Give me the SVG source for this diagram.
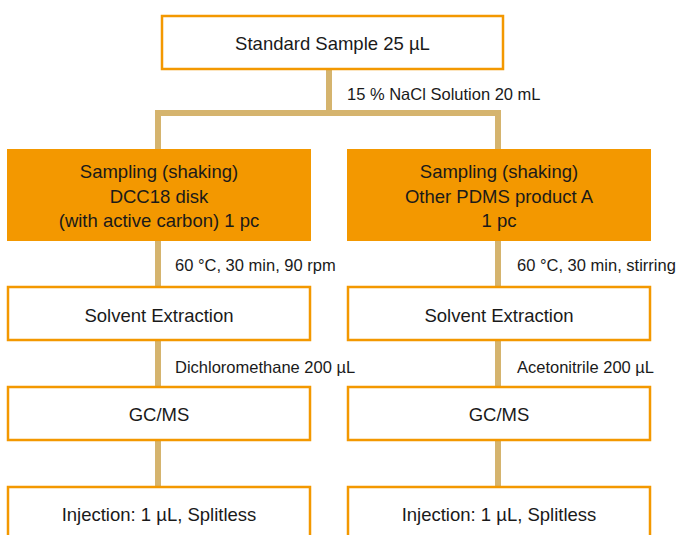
<svg xmlns="http://www.w3.org/2000/svg" width="680" height="535" viewBox="0 0 680 535">
<style>
.box{fill:#fff;stroke:#F39800;stroke-width:2.5}
.fbox{fill:#F39800;stroke:#F39800;stroke-width:2}
.t{font-family:"Liberation Sans",Arial,sans-serif;font-size:18.5px;fill:#1a1a1a;text-anchor:middle}
.l{font-family:"Liberation Sans",Arial,sans-serif;font-size:16.5px;fill:#1a1a1a}
.c{stroke:#D5B46E;stroke-width:6;fill:none}
</style>
<rect width="680" height="535" fill="#fff"/>
<g id="connectors">
<line class="c" x1="329" y1="69" x2="329" y2="113"/>
<polyline class="c" points="158,150 158,113 498,113 498,150"/>
<line class="c" x1="158" y1="240" x2="158" y2="287"/>
<line class="c" x1="498" y1="240" x2="498" y2="287"/>
<line class="c" x1="158" y1="340" x2="158" y2="387"/>
<line class="c" x1="498" y1="340" x2="498" y2="387"/>
<line class="c" x1="158" y1="440" x2="158" y2="487"/>
<line class="c" x1="498" y1="440" x2="498" y2="487"/>
<text class="l" x="347" y="100">15 % NaCl Solution 20 mL</text>
<text class="l" x="175" y="271">60 °C, 30 min, 90 rpm</text>
<text class="l" x="517" y="271">60 °C, 30 min, stirring</text>
<text class="l" x="175" y="373">Dichloromethane 200 µL</text>
<text class="l" x="517" y="373">Acetonitrile 200 µL</text>
</g>
<g id="standard"><rect class="box" x="162" y="16" width="341" height="53"/><text class="t" x="332.5" y="50">Standard Sample 25 µL</text></g>
<g id="sampling-left"><rect class="fbox" x="8" y="150" width="302" height="90"/>
<text class="t" x="159" y="178">Sampling (shaking)</text><text class="t" x="159" y="203">DCC18 disk</text><text class="t" x="159" y="227">(with active carbon) 1 pc</text></g>
<g id="sampling-right"><rect class="fbox" x="348" y="150" width="302" height="90"/>
<text class="t" x="499" y="178">Sampling (shaking)</text><text class="t" x="499" y="203">Other PDMS product A</text><text class="t" x="499" y="227">1 pc</text></g>
<g id="extraction-left"><rect class="box" x="8" y="287" width="302" height="53"/><text class="t" x="159" y="322">Solvent Extraction</text></g>
<g id="extraction-right"><rect class="box" x="348" y="287" width="302" height="53"/><text class="t" x="499" y="322">Solvent Extraction</text></g>
<g id="gcms-left"><rect class="box" x="8" y="387" width="302" height="53"/><text class="t" x="159" y="421">GC/MS</text></g>
<g id="gcms-right"><rect class="box" x="348" y="387" width="302" height="53"/><text class="t" x="499" y="421">GC/MS</text></g>
<g id="injection-left"><rect class="box" x="8" y="487" width="302" height="60"/><text class="t" x="159" y="521">Injection: 1 µL, Splitless</text></g>
<g id="injection-right"><rect class="box" x="348" y="487" width="302" height="60"/><text class="t" x="499" y="521">Injection: 1 µL, Splitless</text></g>
</svg>
